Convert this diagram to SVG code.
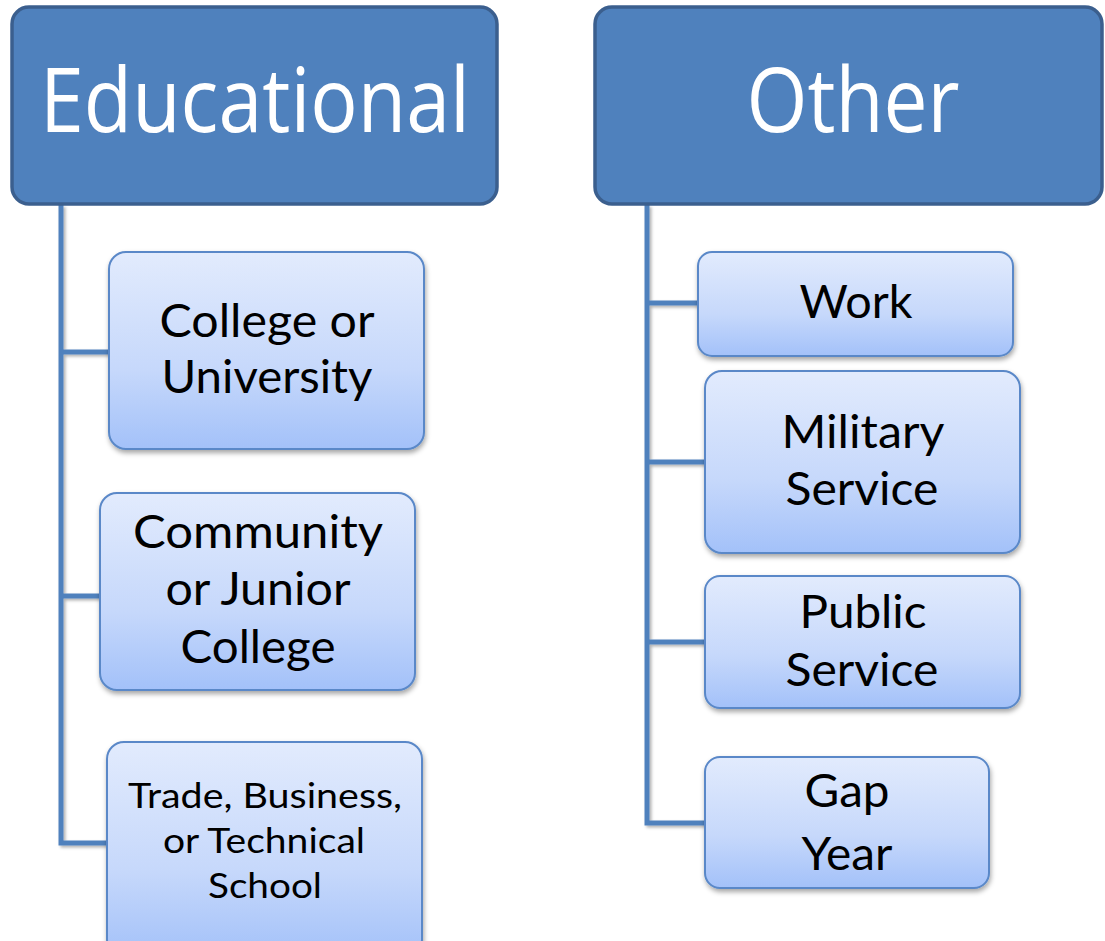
<svg xmlns="http://www.w3.org/2000/svg" width="1105" height="941" viewBox="0 0 1105 941">
<defs>
<linearGradient id="g" x1="0" y1="0" x2="0" y2="1">
<stop offset="0" stop-color="#E2EBFD"/>
<stop offset="0.6" stop-color="#C6D8FB"/>
<stop offset="1" stop-color="#A3C1F9"/>
</linearGradient>
<filter id="sh" x="-10%" y="-10%" width="130%" height="130%">
<feDropShadow dx="1" dy="3" stdDeviation="2.5" flood-color="#000" flood-opacity="0.35"/>
</filter>
<filter id="lsh" x="-50%" y="-5%" width="200%" height="110%">
<feDropShadow dx="2" dy="2" stdDeviation="1.5" flood-color="#000" flood-opacity="0.3"/>
</filter>
</defs>
<style>
.hdr{fill:#4F81BD;stroke:#3B5F8E;stroke-width:3.5}
.box{fill:url(#g);stroke:#5A88C8;stroke-width:2;filter:url(#sh)}
.conn{fill:none;stroke:#4F81BD;stroke-width:5;stroke-linejoin:miter;filter:url(#lsh)}
.ht{font-family:"Open Sans",Lato,sans-serif;font-size:89px;fill:#fff;text-anchor:middle}
.t{font-family:Lato,"Open Sans",sans-serif;font-size:46px;fill:#000;text-anchor:middle}
.s{font-family:Lato,"Open Sans",sans-serif;font-size:35px;fill:#000;text-anchor:middle}
</style>
<g id="connectors">
<path class="conn" d="M61,205 V843 H107 M61,352 H109 M61,596 H100"/>
<path class="conn" d="M647,205 V823 H705 M647,303 H698 M647,462 H705 M647,642 H705"/>
</g>
<g id="educational">
<rect class="hdr" x="12" y="7" width="485" height="197" rx="17"/>
<text class="ht" x="255" y="132" textLength="430" lengthAdjust="spacingAndGlyphs">Educational</text>
</g>
<g id="other">
<rect class="hdr" x="595" y="7" width="507" height="197" rx="17"/>
<text class="ht" x="853" y="132" textLength="213" lengthAdjust="spacingAndGlyphs">Other</text>
</g>
<g id="college">
<rect class="box" x="109" y="252" width="315" height="197" rx="17"/>
<text class="t" x="267" y="337" textLength="215" lengthAdjust="spacingAndGlyphs">College or</text>
<text class="t" x="267" y="393" textLength="211" lengthAdjust="spacingAndGlyphs">University</text>
</g>
<g id="community">
<rect class="box" x="100" y="493" width="315" height="197" rx="17"/>
<text class="t" x="258" y="548" textLength="250" lengthAdjust="spacingAndGlyphs">Community</text>
<text class="t" x="258" y="605" textLength="185" lengthAdjust="spacingAndGlyphs">or Junior</text>
<text class="t" x="258" y="663" textLength="155" lengthAdjust="spacingAndGlyphs">College</text>
</g>
<g id="trade">
<rect class="box" x="107" y="742" width="315" height="215" rx="17"/>
<text class="s" x="265" y="808" textLength="274" lengthAdjust="spacingAndGlyphs">Trade, Business,</text>
<text class="s" x="264" y="853" textLength="202" lengthAdjust="spacingAndGlyphs">or Technical</text>
<text class="s" x="265" y="898" textLength="114" lengthAdjust="spacingAndGlyphs">School</text>
</g>
<g id="work">
<rect class="box" x="698" y="252" width="315" height="104" rx="14"/>
<text class="t" x="856" y="318" textLength="113" lengthAdjust="spacingAndGlyphs">Work</text>
</g>
<g id="military">
<rect class="box" x="705" y="371" width="315" height="182" rx="17"/>
<text class="t" x="863" y="448" textLength="163" lengthAdjust="spacingAndGlyphs">Military</text>
<text class="t" x="862" y="505" textLength="153" lengthAdjust="spacingAndGlyphs">Service</text>
</g>
<g id="public">
<rect class="box" x="705" y="576" width="315" height="132" rx="15"/>
<text class="t" x="863" y="628" textLength="127" lengthAdjust="spacingAndGlyphs">Public</text>
<text class="t" x="862" y="686" textLength="153" lengthAdjust="spacingAndGlyphs">Service</text>
</g>
<g id="gap">
<rect class="box" x="705" y="757" width="284" height="131" rx="15"/>
<text class="t" x="847" y="807" textLength="85" lengthAdjust="spacingAndGlyphs">Gap</text>
<text class="t" x="847" y="870" textLength="91" lengthAdjust="spacingAndGlyphs">Year</text>
</g>
</svg>
